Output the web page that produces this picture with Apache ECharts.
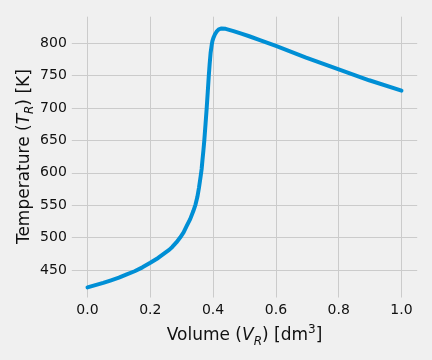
<!DOCTYPE html>
<html><head><meta charset="utf-8">
<script src="https://cdn.jsdelivr.net/npm/echarts@6/dist/echarts.min.js"></script>
<style>html,body{margin:0;padding:0;background:#f0f0f0;}#c{width:432px;height:360px;}</style>
</head><body><div id="c"></div>
<script>
const volume = [0, 0.025, 0.05, 0.075, 0.1, 0.125, 0.15, 0.175, 0.2, 0.225, 0.25, 0.26, 0.27, 0.283, 0.295, 0.306, 0.316, 0.327, 0.337, 0.344, 0.35, 0.355, 0.3605, 0.3635, 0.366, 0.369, 0.372, 0.376, 0.3796, 0.383, 0.386, 0.389, 0.392, 0.396, 0.398, 0.401, 0.403, 0.406, 0.411, 0.418, 0.427, 0.44, 0.465, 0.49, 0.515, 0.549, 0.6, 0.696, 0.8, 0.897, 1.0];
const temperature = [423, 426.5, 430, 434, 438, 443, 448, 454, 461, 468.5, 477.5, 481, 485.5, 492.5, 500, 508, 518, 528.5, 541, 551, 563, 577, 595, 606, 619, 634, 650, 676, 700, 725, 748, 768, 785, 799, 804, 808.5, 811, 814, 818, 821.5, 823, 822.5, 819, 815, 811, 805, 796, 778, 760, 743, 727];
const xTickLabels = ['0.0', '0.2', '0.4', '0.6', '0.8', '1.0'];
const yTickLabels = ['450', '500', '550', '600', '650', '700', '750', '800'];

const FONT = 'DejaVu Sans';
const TXT = '#111';
const chart = echarts.init(document.getElementById('c'), null, {renderer: 'canvas'});
const pts = volume.map((v, i) => [v, temperature[i]]);
chart.setOption({
  backgroundColor: '#f0f0f0',
  animation: false,
  grid: [
    {left: 71.8, right: 14.8, top: 11, bottom: 57.7, containLabel: false},
    {left: 87.5, right: 30.5, top: 16.7, bottom: 62.5, containLabel: false}
  ],
  xAxis: [
    {gridIndex: 0, type: 'value', min: -0.05, max: 1.05, show: false},
    {gridIndex: 1, type: 'value', min: 0, max: 1, interval: 0.2,
     axisLine: {show: false}, axisTick: {show: false},
     splitLine: {show: true, lineStyle: {color: '#cbcbcb', width: 1}},
     axisLabel: {margin: 6, fontFamily: FONT, fontSize: 14, color: TXT,
       formatter: (v) => xTickLabels[Math.round(v / 0.2)]},
     name: '{n|Volume (}{i|V}{s|R}{n|) [dm}{p|3}{n|]}',
     nameLocation: 'middle', nameGap: 26,
     nameTextStyle: {fontFamily: FONT, color: TXT,
       rich: {
         n: {fontFamily: FONT, fontSize: 17, color: TXT, verticalAlign: 'bottom', padding: [0,0,3,0]},
         i: {fontFamily: FONT, fontSize: 17, color: TXT, fontStyle: 'italic', verticalAlign: 'bottom', padding: [0,0,3,0]},
         s: {fontFamily: FONT, fontSize: 12, color: TXT, fontStyle: 'italic', verticalAlign: 'bottom', padding: [0,0,0,0]},
         p: {fontFamily: FONT, fontSize: 12, color: TXT, verticalAlign: 'bottom', padding: [0,0,12,0]}
       }}
    }
  ],
  yAxis: [
    {gridIndex: 0, type: 'value', min: 400, max: 850, interval: 50,
     axisLine: {show: false}, axisTick: {show: false},
     splitLine: {show: true, showMinLine: false, showMaxLine: false, lineStyle: {color: '#cbcbcb', width: 1}},
     axisLabel: {margin: 5, fontFamily: FONT, fontSize: 14, color: TXT, showMinLabel: false, showMaxLabel: false,
       formatter: (v) => { const k = Math.round((v - 450) / 50); return (k >= 0 && k < yTickLabels.length) ? yTickLabels[k] : ''; }},
     name: '{n|Temperature (}{i|T}{s|R}{n|) [K]}',
     nameLocation: 'middle', nameGap: 36, nameRotate: 90, nameMoveOverlap: false,
     nameTextStyle: {fontFamily: FONT, color: TXT,
       rich: {
         n: {fontFamily: FONT, fontSize: 17, color: TXT, verticalAlign: 'bottom', padding: [0,0,3,0]},
         i: {fontFamily: FONT, fontSize: 17, color: TXT, fontStyle: 'italic', verticalAlign: 'bottom', padding: [0,0,3,0]},
         s: {fontFamily: FONT, fontSize: 12, color: TXT, fontStyle: 'italic', verticalAlign: 'bottom', padding: [0,0,0,0]}
       }}
    },
    {gridIndex: 1, type: 'value', min: 0, max: 1, show: false}
  ],
  series: [{
    type: 'line', xAxisIndex: 0, yAxisIndex: 0, data: pts,
    showSymbol: false, symbol: 'none', smooth: false,
    lineStyle: {color: '#008fd5', width: 4, cap: 'round', join: 'round'}
  }]
});
</script></body></html>
